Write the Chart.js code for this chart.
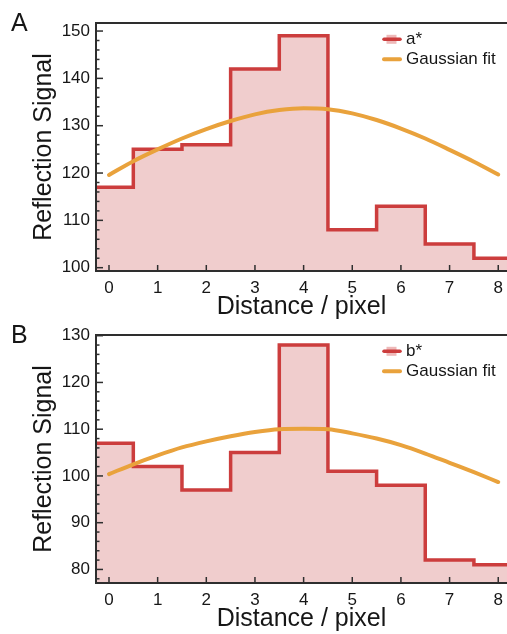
<!DOCTYPE html>
<html><head><meta charset="utf-8">
<script src="https://cdn.jsdelivr.net/npm/chart.js@4.4.0/dist/chart.umd.min.js"></script>
<style>
html,body{margin:0;padding:0;background:#fff;width:507px;height:634px;overflow:hidden;}
.wrap{position:absolute;left:0;width:507px;}
canvas{display:block;}
</style></head><body>
<div class="wrap" style="top:0;height:330px"><canvas id="cA" width="507" height="330"></canvas></div>
<div class="wrap" style="top:312px;height:322px"><canvas id="cB" width="507" height="322"></canvas></div>
<script>
// ---- data ----
const distance = [0, 1, 2, 3, 4, 5, 6, 7, 8];
const aStar = [117, 125, 126, 142, 149, 108, 113, 105, 102];
const bStar = [107, 102, 97, 105, 128, 101, 98, 82, 81];
const fitX = [0, 0.5, 1, 1.5, 2, 2.5, 3, 3.5, 4, 4.5, 5, 5.5, 6, 6.5, 7, 7.5, 8];
const fitA = [119.6, 122.5, 125.0, 127.3, 129.3, 131.0, 132.4, 133.3, 133.7, 133.5, 132.6, 131.2, 129.4, 127.3, 124.9, 122.4, 119.7];
const fitB = [100.4, 102.5, 104.4, 106.1, 107.4, 108.5, 109.4, 110.0, 110.1, 110.0, 109.1, 108.0, 106.6, 104.8, 102.8, 100.8, 98.7];
const xTickLabels = [0, 1, 2, 3, 4, 5, 6, 7, 8];
const yTicksA = [100, 110, 120, 130, 140, 150];
const yTicksB = [80, 90, 100, 110, 120, 130];
const MINOR_STEP = 2;

// ---- style ----
const F = "'Liberation Sans', Arial, Helvetica, sans-serif";
const RED = '#cc3d3d';
const PINK = '#f0cdcd';
const LEG_PINK = '#eeb9b9';
const ORANGE = '#e9a23c';
const AX = '#2e2e2e';
const TXT = '#161616';

const framePlugin = {
  id: 'frame',
  afterDraw(chart) {
    const o = chart.options.plugins.frame;
    const {ctx, chartArea: {left, right, top, bottom}, scales: {x, y}} = chart;
    ctx.save();
    // ticks
    ctx.strokeStyle = AX; ctx.lineWidth = 1.5; ctx.lineCap = 'butt';
    for (let v = Math.ceil(y.min / MINOR_STEP) * MINOR_STEP; v <= y.max; v += MINOR_STEP) {
      const py = y.getPixelForValue(v);
      const major = o.yTicks.includes(v);
      ctx.beginPath(); ctx.moveTo(left, py); ctx.lineTo(left + (major ? 7 : 3.5), py); ctx.stroke();
    }
    xTickLabels.forEach(v => {
      const px = x.getPixelForValue(v);
      ctx.beginPath(); ctx.moveTo(px, bottom); ctx.lineTo(px, bottom - 6); ctx.stroke();
    });
    // frame
    ctx.lineWidth = 2;
    ctx.beginPath();
    ctx.moveTo(right + 2, top); ctx.lineTo(left, top); ctx.lineTo(left, bottom); ctx.lineTo(right + 2, bottom);
    ctx.stroke();
    // legend
    const lx = right - 124, ly1 = top + 16.3, ly2 = top + 36.3;
    ctx.fillStyle = LEG_PINK;
    ctx.fillRect(lx + 3.5, ly1 - 4.5, 10, 9);
    ctx.strokeStyle = RED; ctx.lineWidth = 3.5; ctx.lineCap = 'round';
    ctx.beginPath(); ctx.moveTo(lx + 1, ly1); ctx.lineTo(lx + 17, ly1); ctx.stroke();
    ctx.strokeStyle = ORANGE; ctx.lineWidth = 4;
    ctx.beginPath(); ctx.moveTo(lx + 1, ly2); ctx.lineTo(lx + 17, ly2); ctx.stroke();
    ctx.fillStyle = TXT; ctx.font = '17px ' + F; ctx.textBaseline = 'middle'; ctx.textAlign = 'left';
    ctx.fillText(o.name, lx + 23, ly1);
    ctx.fillText('Gaussian fit', lx + 23, ly2);
    // panel label
    ctx.font = '25px ' + F; ctx.textBaseline = 'alphabetic';
    ctx.fillText(o.panel, 11, 31);
    ctx.restore();
  }
};

function makeChart(id, vals, fit, name, panel, yMin, yMax, yTicks, padB) {
  const steps = distance.flatMap((d, i) => [{x: d - 0.5, y: vals[i]}, {x: d + 0.5, y: vals[i]}]);
  const canvas = document.getElementById(id);
  return new Chart(canvas, {
    type: 'line',
    data: {
      datasets: [
        {label: 'Gaussian fit', data: fitX.map((x, i) => ({x, y: fit[i]})), borderColor: ORANGE,
         borderWidth: 4, cubicInterpolationMode: 'monotone', pointRadius: 0, fill: false,
         borderCapStyle: 'round', order: 0},
        {label: name, data: steps, borderColor: RED, backgroundColor: PINK, borderWidth: 3.5,
         pointRadius: 0, fill: 'start', tension: 0, order: 1, borderJoinStyle: 'miter'}
      ]
    },
    options: {
      responsive: false, animation: false, devicePixelRatio: 1,
      layout: {padding: {top: 23, left: 0, right: 0, bottom: padB}},
      plugins: {legend: {display: false}, tooltip: {enabled: false},
        frame: {name, panel, yTicks}},
      scales: {
        x: {
          type: 'linear', min: -0.267, max: 8.18,
          afterBuildTicks: s => { s.ticks = xTickLabels.map(v => ({value: v})); },
          afterFit: s => { s.height = canvas.height - padB - 271; s.paddingLeft = 0; s.paddingRight = 0; },
          grid: {display: false, drawTicks: false}, border: {display: false},
          ticks: {padding: 7, font: {family: F, size: 17}, color: TXT, maxRotation: 0, autoSkip: false},
          title: {display: true, text: 'Distance / pixel', font: {family: F, size: 25}, color: TXT,
                  padding: {top: 0, bottom: 0}}
        },
        y: {
          type: 'linear', min: yMin, max: yMax,
          afterBuildTicks: s => { s.ticks = yTicks.map(v => ({value: v})); },
          afterFit: s => { s.width = 96; s.paddingTop = 0; s.paddingBottom = 0; },
          grid: {display: false, drawTicks: false}, border: {display: false},
          ticks: {padding: 6, font: {family: F, size: 17}, color: TXT, autoSkip: false},
          title: {display: true, text: 'Reflection Signal', font: {family: F, size: 25}, color: TXT,
                  padding: {top: 29.6, bottom: 0}}
        }
      }
    },
    plugins: [framePlugin]
  });
}

makeChart('cA', aStar, fitA, 'a*', 'A', 99.3, 151.7, yTicksA, 8);
makeChart('cB', bStar, fitB, 'b*', 'B', 77.1, 130.15, yTicksB, 0);
</script>
</body></html>
